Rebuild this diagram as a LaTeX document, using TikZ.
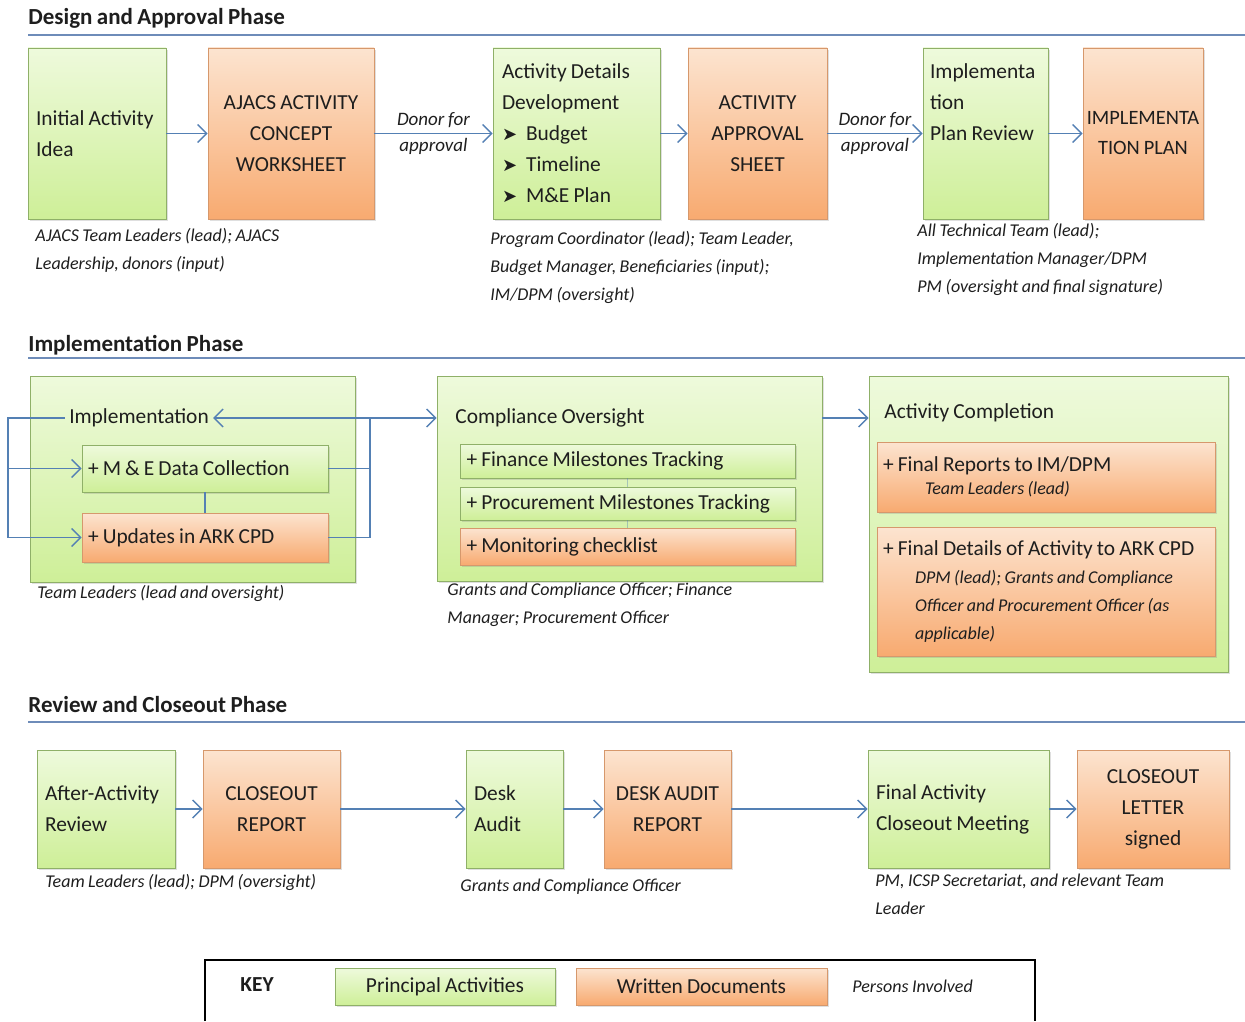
\documentclass[tikz,border=0pt]{standalone}
\usepackage{fontspec}
\setmainfont{Carlito}[WordSpace=0.85]
\newfontfamily\symfont{DejaVu Sans}
\usepackage{tikz}
\usetikzlibrary{positioning,calc}
\usetikzlibrary{arrows.meta,shadows}
\definecolor{ActTop}{RGB}{238,250,220}
\definecolor{ActBot}{RGB}{206,239,152}
\definecolor{ActLine}{RGB}{143,176,104}
\definecolor{DocTop}{RGB}{252,228,208}
\definecolor{DocBot}{RGB}{248,170,112}
\definecolor{DocLine}{RGB}{214,152,108}
\definecolor{FlowBlue}{RGB}{84,128,180}
\definecolor{RuleBlue}{RGB}{110,140,185}
\definecolor{Ink}{RGB}{30,30,30}
\newcommand{\boxfont}{\fontsize{10.7}{15.5}\selectfont\hyphenpenalty=10000\exhyphenpenalty=10000}
\newcommand{\detfont}{\fontsize{10.7}{14}\selectfont\hyphenpenalty=10000\exhyphenpenalty=10000}
\newcommand{\whofont}{\fontsize{9}{14}\selectfont\itshape\hyphenpenalty=10000}
\newcommand{\arr}{{\symfont\small ➤}\hspace{4.5pt}}
\tikzset{act/.style={rectangle,draw=ActLine,top color=ActTop,bottom color=ActBot,drop shadow={opacity=0.25,shadow xshift=1pt,shadow yshift=-1.2pt},inner sep=4pt,text=Ink,font=\boxfont}, doc/.style={rectangle,draw=DocLine,top color=DocTop,bottom color=DocBot,drop shadow={opacity=0.25,shadow xshift=1pt,shadow yshift=-1.2pt},inner sep=4pt,text=Ink,font=\boxfont}, who/.style={anchor=north west,align=left,inner sep=0pt,text=Ink,font=\whofont}, phase/.style={anchor=west,inner sep=0pt,text=Ink,font=\fontsize{11.5}{14}\selectfont\bfseries}, rule/.style={draw=RuleBlue,line width=0.8pt}, link/.style={draw=FlowBlue,line width=0.7pt}, flow/.style={link,-{Straight Barb[length=4.5pt,width=9pt]}}, donor/.style={align=center,inner sep=0pt,text=Ink,font=\fontsize{9.5}{13}\selectfont\itshape}}

\begin{document}
\begin{tikzpicture}[x=0.5pt,y=-0.5pt]
\useasboundingbox (0,0) rectangle (1245,1021);
\node[phase] (ph1) at (28,18) {Design and Approval Phase};
\draw[rule] (28,35) -- (1245,35);
\node[act,minimum width=69pt,minimum height=85.5pt,text width=61pt,inner sep=4pt,align=flush left] (idea) at (97,133.5) {Initial Activity\\Idea};
\node[doc,minimum width=83pt,minimum height=85.5pt,text width=78pt,inner sep=2.5pt,align=flush center] (ajacs) at (291,133.5) {AJACS ACTIVITY\\CONCEPT\\WORKSHEET};
\node[act,minimum width=83.5pt,minimum height=85.5pt,text width=74.5pt,inner sep=4.5pt,align=flush left] (details) at (576.5,133.5) {Activity Details\\Development\\\arr Budget\\\arr Timeline\\\arr M\&E Plan};
\node[doc,minimum width=69.5pt,minimum height=85.5pt,text width=64pt,inner sep=2.5pt,align=flush center] (appr) at (757.5,133.5) {ACTIVITY\\APPROVAL\\SHEET};
\node[act,minimum width=62.5pt,minimum height=85.5pt,text width=55.5pt,inner sep=3.5pt,align=flush left] (review) at (985.5,133.5) {Implementa\\tion\\Plan Review\\\mbox{}\\\mbox{}};
\node[doc,minimum width=60pt,minimum height=85.5pt,text width=60pt,inner sep=0pt,align=flush center,font=\fontsize{10.2}{15}\selectfont] (plan) at (1143,133.5) {IMPLEMENTA\\TION PLAN};
\draw[flow] (idea) -- (ajacs);
\draw[flow] (ajacs) -- node[donor]{Donor for\\approval} (details);
\draw[flow] (details) -- (appr);
\draw[flow] (appr) -- node[donor]{Donor for\\approval} (review);
\draw[flow] (review) -- (plan);
\node[who] (who1) at (35,228) {AJACS Team Leaders (lead); AJACS\\Leadership, donors (input)};
\node[who] (who2) at (490,231) {Program Coordinator (lead); Team Leader,\\Budget Manager, Beneficiaries (input);\\IM/DPM (oversight)};
\node[who] (who3) at (917,223) {All Technical Team (lead);\\Implementation Manager/DPM\\PM (oversight and final signature)};

\node[phase] (ph2) at (28,345) {Implementation Phase};
\draw[rule] (28,358) -- (1245,358);
\node[act,minimum width=162.5pt,minimum height=103pt] (impl) at (192.5,479) {};
\node[inner sep=2pt,text=Ink,font=\boxfont] (impltitle) at (139,418) {Implementation};
\node[act,minimum width=123pt,minimum height=23.5pt,text width=117pt,inner sep=3pt,align=flush left] (me) at (205,468.5) {+ M \& E Data Collection};
\node[doc,minimum width=123pt,minimum height=24.5pt,text width=117pt,inner sep=3pt,align=flush left] (upd) at (205,537.5) {+ Updates in ARK CPD};
\coordinate (lbus) at (8,0);
\coordinate (rbus) at (370,0);
\draw[link] (me.south) -- (upd.north);
\draw[flow] (impltitle.west) -| (lbus |- upd.west) -- (upd.west);
\draw[flow] (lbus |- me.west) -- (me.west);
\draw[link] (upd.east) -| (rbus |- impltitle.east);
\draw[link] (me.east) -- (rbus |- me.east);
\node[act,minimum width=192.5pt,minimum height=102.5pt] (comp) at (629.5,478.5) {};
\node[anchor=west,inner sep=0pt,text=Ink,font=\boxfont] (comptitle) at (455,418) {Compliance Oversight};
\draw[flow] (rbus |- impltitle.east) -- (impltitle.east);
\draw[flow] (rbus |- impltitle.east) -- (comp.west |- comptitle);
\node[act,minimum width=167.5pt,minimum height=17pt,inner sep=3pt,text width=161pt,align=flush left] (fin) at (627.5,461) {+ Finance Milestones Tracking};
\node[act,minimum width=167.5pt,minimum height=16.5pt,inner sep=3pt,text width=161pt,align=flush left] (proc) at (627.5,503.5) {+ Procurement Milestones Tracking};
\node[doc,minimum width=167.5pt,minimum height=18.5pt,inner sep=3pt,text width=161pt,align=flush left] (mon) at (627.5,546.5) {+ Monitoring checklist};
\draw[link,draw opacity=0.4] (fin.south) -- (proc.north);
\draw[link,draw opacity=0.4] (proc.south) -- (mon.north);
\node[act,minimum width=179.5pt,minimum height=148pt] (done) at (1048.5,524) {};
\node[anchor=west,inner sep=0pt,text=Ink,font=\boxfont] (donetitle) at (884,413) {Activity Completion};
\draw[flow] (comp.east |- comptitle) -- (done.west |- comptitle);
\node[doc,minimum width=169pt,minimum height=35pt,text width=163pt,inner sep=3pt,align=flush left] (rep) at (1046,477) {+ Final Reports to IM/DPM\\[-4pt]\hspace*{21pt}{\whofont Team Leaders (lead)}};
\node[doc,minimum width=169pt,minimum height=64.5pt,text width=163pt,inner sep=3pt,align=flush left,font=\detfont] (det) at (1046,591.5) {+ Final Details of Activity to ARK CPD\\{\whofont\hspace*{16pt}DPM (lead); Grants and Compliance}\\{\whofont\hspace*{16pt}Officer and Procurement Officer (as}\\{\whofont\hspace*{16pt}applicable)}};
\node[who] (who4) at (37,585) {Team Leaders (lead and oversight)};
\node[who] (who5) at (447,583) {Grants and Compliance Officer; Finance\\Manager; Procurement Officer};

\node[phase] (ph3) at (28,705) {Review and Closeout Phase};
\draw[rule] (28,722) -- (1245,722);
\node[act,minimum width=69pt,minimum height=59pt,text width=61pt,inner sep=4pt,align=flush left] (after) at (106,809) {After-Activity\\Review};
\node[doc,minimum width=68.5pt,minimum height=59pt,text width=64pt,inner sep=2pt,align=flush center] (close) at (271.5,809) {CLOSEOUT\\REPORT};
\node[act,minimum width=48.5pt,minimum height=59pt,text width=40.5pt,inner sep=4pt,align=flush left] (desk) at (514.5,809) {Desk\\Audit};
\node[doc,minimum width=63.5pt,minimum height=59pt,text width=60pt,inner sep=1.5pt,align=flush center] (dar) at (667.5,809) {DESK AUDIT\\REPORT};
\node[act,minimum width=90.5pt,minimum height=59pt,text width=82.5pt,inner sep=4pt,align=flush left] (meet) at (958.5,809) {Final Activity\\Closeout Meeting};
\node[doc,minimum width=76pt,minimum height=59pt,text width=70pt,inner sep=3pt,align=flush center] (letter) at (1153,809) {CLOSEOUT\\LETTER\\signed};
\draw[flow] (after) -- (close);
\draw[flow] (close) -- (desk);
\draw[flow] (desk) -- (dar);
\draw[flow] (dar) -- (meet);
\draw[flow] (meet) -- (letter);
\node[who] (who6) at (45,874) {Team Leaders (lead); DPM (oversight)};
\node[who] (who7) at (460,879) {Grants and Compliance Officer};
\node[who] (who8) at (875,874) {PM, ICSP Secretariat, and relevant Team\\Leader};

\draw[black,line width=0.7pt] (205,1021) |- (1035,960) -- (1035,1021);
\node[anchor=west,inner sep=0pt,text=Ink,font=\boxfont\bfseries] (key) at (240,985) {KEY};
\node[act,minimum width=110pt,minimum height=18.5pt] (keyact) at (445,986.5) {Principal Activities};
\node[doc,minimum width=125.5pt,minimum height=18.5pt] (keydoc) at (701.5,986.5) {Written Documents};
\node[anchor=west,inner sep=0pt,text=Ink,font=\whofont] (keywho) at (852,986.5) {Persons Involved};
\end{tikzpicture}
\end{document}
